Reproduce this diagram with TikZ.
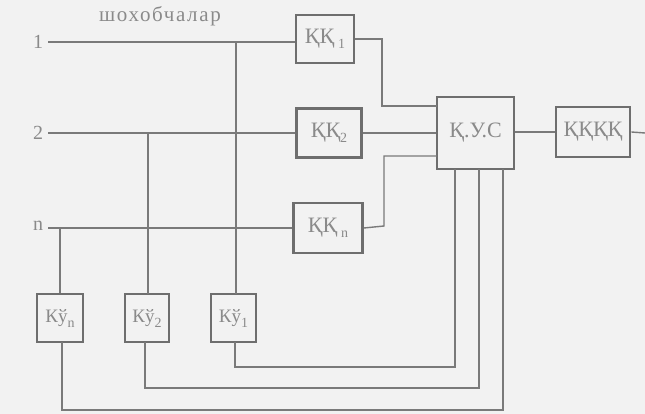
\documentclass[tikz,border=0pt]{standalone}
\usepackage{fontspec}
\setmainfont{Liberation Serif}
\definecolor{bg}{HTML}{F2F2F2}
\definecolor{ln}{HTML}{7A7A7A}
\definecolor{bx}{HTML}{6E6E6E}
\definecolor{tx}{HTML}{8A8A8A}
\newcommand{\sbs}[1]{\raisebox{-5pt}{\fontsize{14}{14}\selectfont #1}}
\begin{document}
\begin{tikzpicture}[x=1pt,y=-1pt,
  blk/.style={draw=bx,line width=2.8pt,fill=bg,text=tx,inner sep=0pt,font=\fontsize{22}{22}\selectfont},
  sblk/.style={blk,font=\fontsize{19}{19}\selectfont},
  wire/.style={draw=ln,line width=1.4pt},
  lbl/.style={text=tx,font=\fontsize{20}{20}\selectfont,inner sep=0pt}]
\fill[bg] (0,0) rectangle (645,414);
\useasboundingbox (0,0) rectangle (645,414);
% boxes
\node[blk,minimum width=58pt,minimum height=48pt] (kk1) at (325,39) {ҚҚ\,\sbs{1}};
\node[blk,minimum width=65pt,minimum height=49pt] (kk2) at (329,133) {ҚҚ\sbs{2}};
\node[blk,minimum width=69pt,minimum height=50pt] (kkn) at (328,228) {ҚҚ\,\sbs{n}};
\node[blk,minimum width=77pt,minimum height=72pt] (kus) at (475.5,133) {Қ.У.С};
\node[blk,minimum width=74pt,minimum height=50pt] (kkkk) at (593,132) {ҚҚҚҚ};
\node[sblk,minimum width=46pt,minimum height=48pt] (kun) at (60,318) {Кў\sbs{n}};
\node[sblk,minimum width=44pt,minimum height=48pt] (ku2) at (147,318) {Кў\sbs{2}};
\node[sblk,minimum width=45pt,minimum height=48pt] (ku1) at (233.5,318) {Кў\sbs{1}};
% labels
\node[lbl] (l1) at (38,42) {1};
\node[lbl] (l2) at (38,133) {2};
\node[lbl] (ln) at (38,226) {n};
\node[lbl,font=\fontsize{21}{21}\selectfont\addfontfeature{LetterSpace=8}] (title) at (160,16) {шохобчалар};
% coordinates
\coordinate (s1) at (48,42);
\coordinate (s2) at (48,133);
\coordinate (sn) at (48,228);
\coordinate (out) at (645,133);
% input lines
\draw[wire] (s1) -- (s1 -| kk1.west);
\draw[wire] (s2) -- (s2 -| kk2.west);
\draw[wire] (sn) -- (sn -| kkn.west);
% taps
\draw[wire] (236,42) -- (236,294);
\draw[wire] (148,133) -- (148,294);
\draw[wire] (60,228) -- (kun.north);
% to KUS
\draw[wire] (kk1.east) -- (382,39) -- (382,106) -- (437,106);
\draw[wire] (kk2.east) -- (kk2.east -| kus.west);
\draw[wire] (kkn.east) -- (384,226) -- (384,156) -- (437,156);
\draw[wire] (kus.east |- kkkk.west) -- (kkkk.west);
\draw[wire] (kkkk.east) -- (out);
% feedback
\draw[wire] (235,342) -- (235,367) -- (455,367) -- (455,169);
\draw[wire] (145,342) -- (145,388) -- (479,388) -- (479,169);
\draw[wire] (62,342) -- (62,410) -- (503,410) -- (503,169);
\end{tikzpicture}
\end{document}
